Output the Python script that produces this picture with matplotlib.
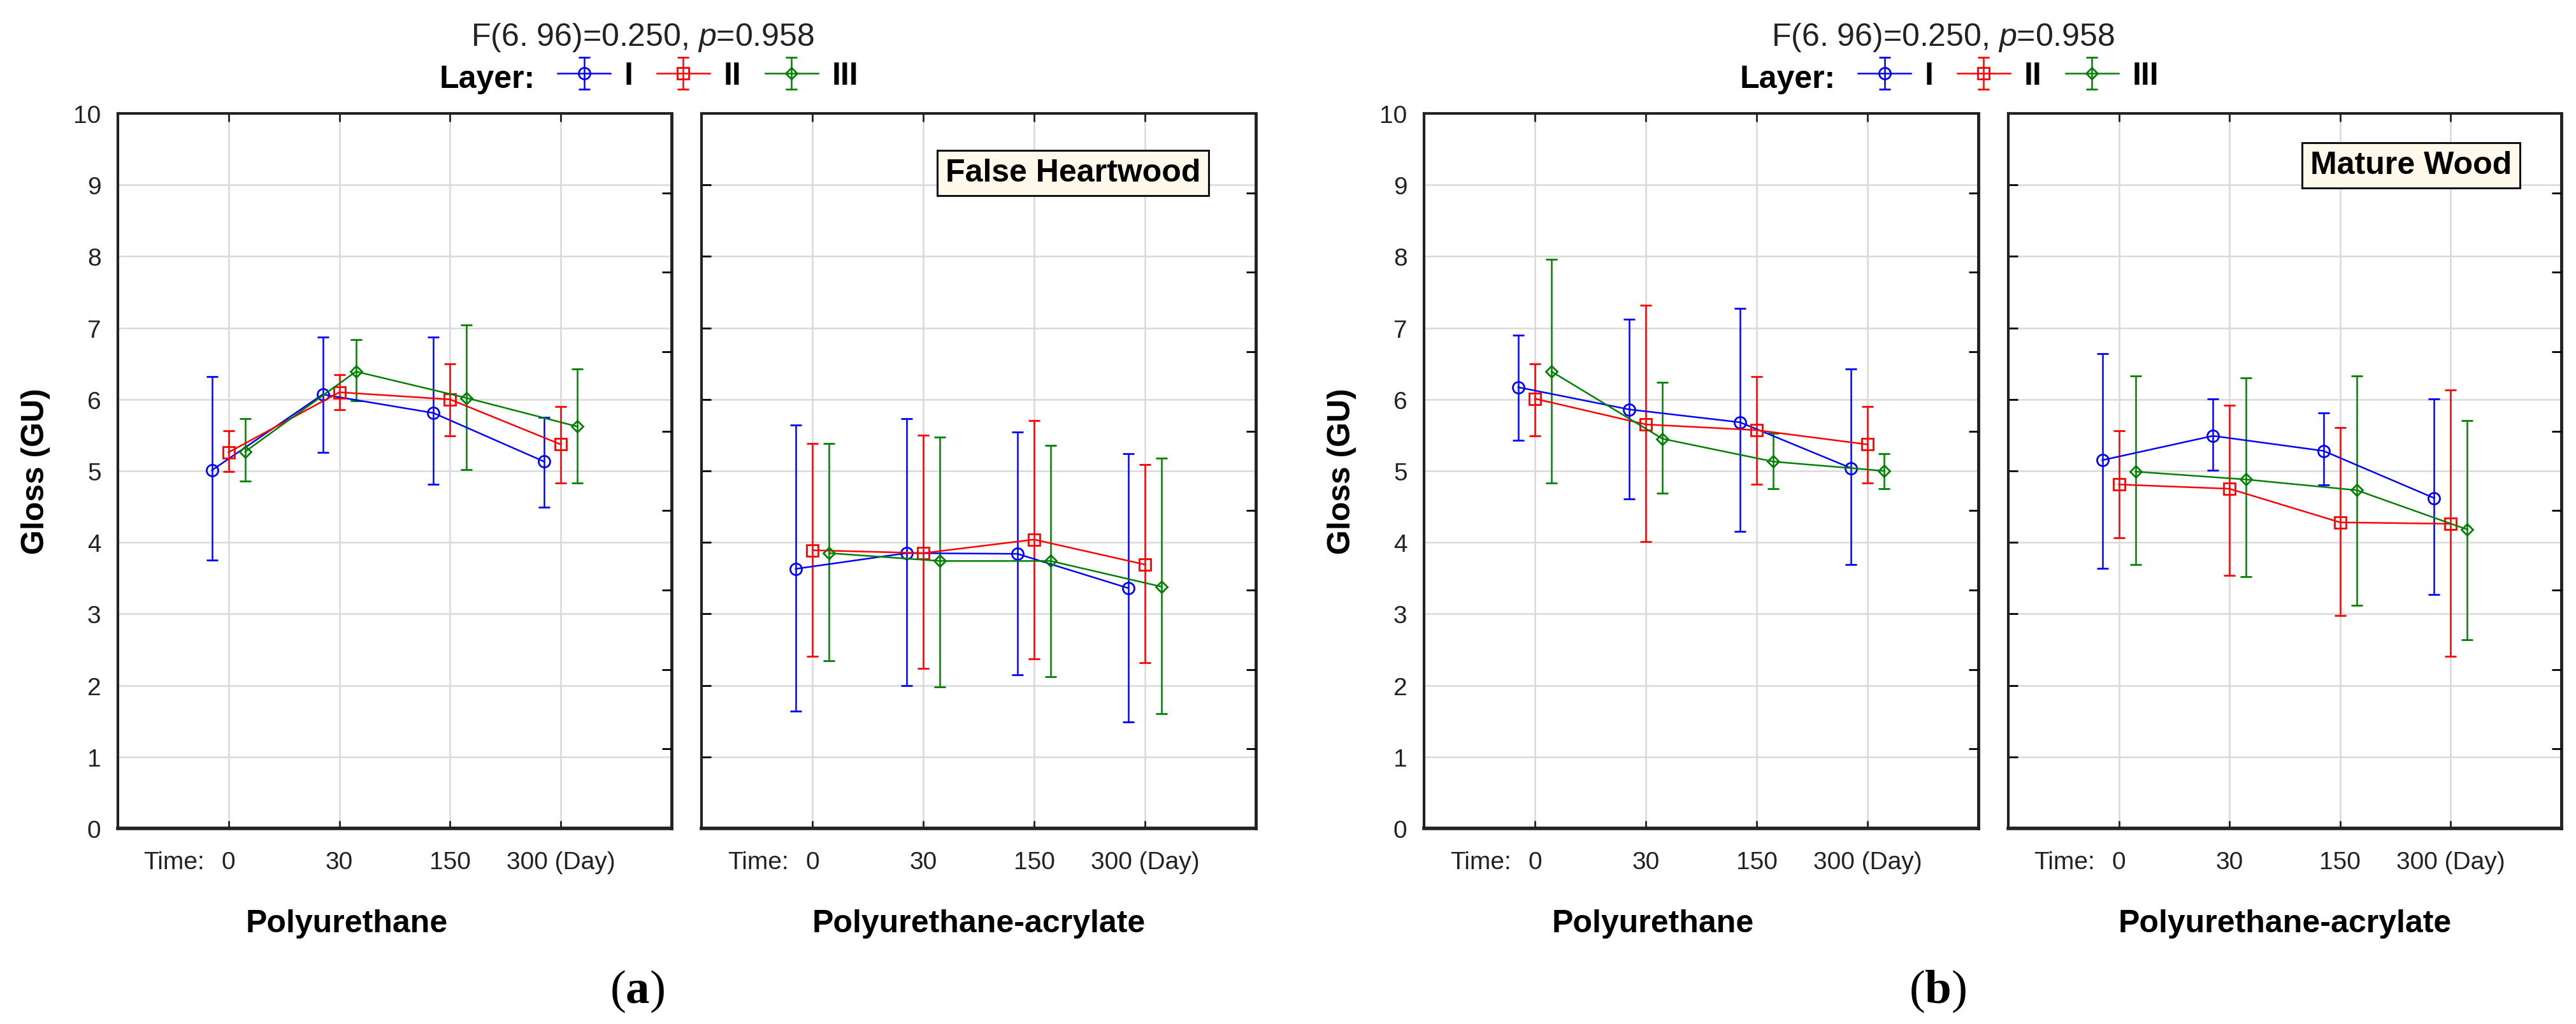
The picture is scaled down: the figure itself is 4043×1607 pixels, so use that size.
import numpy as np
import matplotlib.pyplot as plt

plt.rcParams['font.family'] = 'Liberation Sans'
plt.rcParams['mathtext.fontset'] = 'custom'
plt.rcParams['mathtext.it'] = 'Liberation Sans:italic'
plt.rcParams['mathtext.bf'] = 'Liberation Serif:bold'

# Categories
times = ['0', '30', '150', '300 (Day)']
layers = ['I', 'II', 'III']
colors = ['#0000ff', '#ff0000', '#008000']
markers = ['o', 's', 'D']

# (a) False Heartwood - Polyurethane (rows: layer I, II, III)
fh_pu_mean = [[5.01, 6.07, 5.81, 5.13], [5.26, 6.10, 6.00, 5.37], [5.27, 6.39, 6.02, 5.62]]
fh_pu_high = [[6.32, 6.87, 6.87, 5.75], [5.56, 6.35, 6.50, 5.90], [5.73, 6.84, 7.04, 6.43]]
fh_pu_low = [[3.75, 5.26, 4.81, 4.49], [4.99, 5.86, 5.49, 4.83], [4.86, 5.98, 5.02, 4.83]]

# (a) False Heartwood - Polyurethane-acrylate
fh_pa_mean = [[3.63, 3.85, 3.84, 3.36], [3.89, 3.85, 4.04, 3.69], [3.85, 3.74, 3.74, 3.38]]
fh_pa_high = [[5.64, 5.73, 5.54, 5.24], [5.38, 5.50, 5.70, 5.09], [5.38, 5.47, 5.36, 5.18]]
fh_pa_low = [[1.64, 2.00, 2.15, 1.49], [2.41, 2.24, 2.37, 2.32], [2.34, 1.98, 2.12, 1.60]]

# (b) Mature Wood - Polyurethane
mw_pu_mean = [[6.17, 5.86, 5.68, 5.04], [6.01, 5.65, 5.57, 5.37], [6.39, 5.45, 5.13, 5.00]]
mw_pu_high = [[6.90, 7.12, 7.27, 6.43], [6.50, 7.32, 6.32, 5.90], [7.96, 6.24, 5.53, 5.24]]
mw_pu_low = [[5.43, 4.61, 4.15, 3.69], [5.49, 4.01, 4.81, 4.83], [4.83, 4.69, 4.75, 4.75]]

# (b) Mature Wood - Polyurethane-acrylate
mw_pa_mean = [[5.15, 5.49, 5.28, 4.62], [4.81, 4.75, 4.28, 4.26], [4.99, 4.88, 4.73, 4.18]]
mw_pa_high = [[6.64, 6.01, 5.81, 6.01], [5.56, 5.92, 5.61, 6.13], [6.33, 6.30, 6.33, 5.70]]
mw_pa_low = [[3.64, 5.01, 4.80, 3.27], [4.06, 3.54, 2.98, 2.41], [3.69, 3.52, 3.12, 2.64]]

W, H = 4043, 1608
fig = plt.figure(figsize=(W / 100, H / 100), dpi=100)


def fx(x):
    return x / W


def fy(y):
    return 1 - y / H


ax_top, ax_bot = 179, 1301
offsets = [-0.15, 0.0, 0.15]
msizes = [13, 13, 9]


def draw_panel(left, right, means, highs, lows, first):
    ax = fig.add_axes([fx(left), fy(ax_bot), fx(right - left), (ax_bot - ax_top) / H])
    xpos = np.arange(1, len(times) + 1)
    handles = []
    for k in range(len(layers)):
        m = np.array(means[k])
        hi = np.array(highs[k])
        lo = np.array(lows[k])
        h = ax.errorbar(xpos + offsets[k], m, yerr=[m - lo, hi - m], color=colors[k],
                        marker=markers[k], ms=msizes[k], mfc='none', mew=2, lw=1.8,
                        elinewidth=1.8, capsize=6.5, capthick=1.8, label=layers[k], zorder=3)
        handles.append(h)
    ax.set_xlim(0, 5)
    ax.set_ylim(0, 10)
    ax.set_xticks(xpos, times)
    ax.set_yticks(range(11))
    ax.grid(color='#d9d9d9', lw=1.8)
    ax.set_axisbelow(True)
    ax.tick_params(axis='x', direction='in', length=9, width=2, top=True,
                   labelsize=28, pad=25, colors='#222222', labelcolor='#222222')
    if first:
        ax.tick_params(axis='y', length=0, labelsize=28, pad=19, labelcolor='#222222')
        ax.set_ylabel('Gloss (GU)', fontsize=36, fontweight='bold', labelpad=26)
    else:
        ax.tick_params(axis='y', direction='in', length=11, width=2, labelleft=False)
    for s in ax.spines.values():
        s.set_linewidth(3)
        s.set_color('#222222')
    ax.spines['bottom'].set_linewidth(4)
    ax.spines['right'].set_linewidth(3.5)
    # right-side ticks on their own scale
    ax2 = ax.twinx()
    ax2.set_ylim(0, 9)
    ax2.set_yticks(range(1, 9))
    ax2.tick_params(axis='y', direction='in', length=11, width=2, labelright=False)
    for s in ax2.spines.values():
        s.set_visible(False)
    # "Time:" label next to the first tick
    ax.annotate('Time:', xy=(xpos[0], 0), xycoords=('data', 'axes fraction'),
                xytext=(-27, -25), textcoords='offset points', ha='right', va='top',
                fontsize=28, color='#222222')
    return ax, handles


panels = [
    (185, 1054, fh_pu_mean, fh_pu_high, fh_pu_low, True, 'Polyurethane', 0.413),
    (1101, 1971, fh_pa_mean, fh_pa_high, fh_pa_low, False, 'Polyurethane-acrylate', 0.5),
    (2235, 3105, mw_pu_mean, mw_pu_high, mw_pu_low, True, 'Polyurethane', 0.413),
    (3152, 4020, mw_pa_mean, mw_pa_high, mw_pa_low, False, 'Polyurethane-acrylate', 0.5),
]

axes = []
for left, right, mn, hi, lo, first, xlabel, xl_pos in panels:
    ax, handles = draw_panel(left, right, mn, hi, lo, first)
    ax.text(xl_pos, (ax_bot - 1463) / (ax_bot - ax_top), xlabel, transform=ax.transAxes,
            ha='center', va='baseline', fontsize=36, fontweight='bold')
    axes.append((ax, handles))

# boxed sample labels
box = dict(boxstyle='square,pad=0.25', facecolor='#fff9ec', edgecolor='#111111', lw=2.2)
fig.text(fx(1684), fy(272), 'False Heartwood', ha='center', va='center', fontsize=36,
         fontweight='bold', bbox=box)
fig.text(fx(3784), fy(260), 'Mature Wood', ha='center', va='center', fontsize=36,
         fontweight='bold', bbox=box)

# titles, legends and panel letters
for centre, letter, (ax, handles) in [(1009, 'a', axes[0]), (3050, 'b', axes[2])]:
    fig.text(fx(centre), fy(72), 'F(6. 96)=0.250, $\\it{p}$=0.958', ha='center',
             va='baseline', fontsize=36, color='#222222')
    fig.text(fx(centre - 169), fy(138), 'Layer:', ha='right', va='baseline',
             fontsize=36, fontweight='bold')
    leg = fig.legend(handles, layers, loc='center left', bbox_to_anchor=(fx(centre - 134), fy(120)),
                     ncol=3, frameon=False, borderpad=0, borderaxespad=0, handlelength=1.66,
                     handletextpad=0.44, columnspacing=0.74, prop={'size': 36, 'weight': 'bold'})
    fig.text(fx(centre - 9), fy(1556), '($\\mathbf{' + letter + '}$)', ha='center', va='center',
             fontsize=54, family='Liberation Serif')

fig.savefig('out.png', dpi=100, facecolor='white')
